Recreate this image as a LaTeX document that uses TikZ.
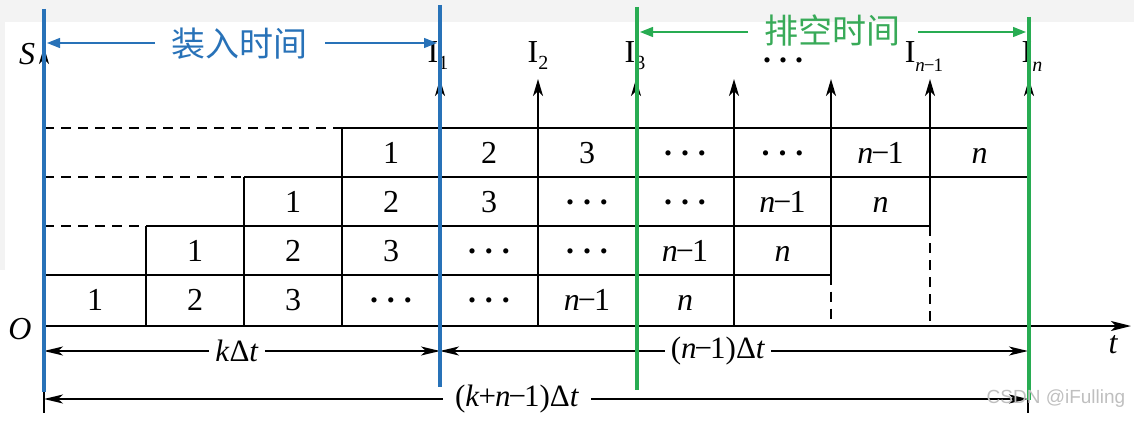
\documentclass[tikz,border=0pt]{standalone}
\usepackage{fontspec}
\setmainfont{Liberation Serif}
\newfontfamily\cjk{Noto Sans CJK SC}
\newfontfamily\wmfont{Liberation Sans}
\usetikzlibrary{arrows.meta}
\definecolor{lblue}{RGB}{40,114,184}
\definecolor{lgreen}{RGB}{40,172,82}
\definecolor{tgreen}{RGB}{56,170,88}
\definecolor{band}{RGB}{243,243,243}
\newcommand\cdd{\raisebox{8pt}{\textbf{.}\kern9pt\textbf{.}\kern9pt\textbf{.}}}
\newcommand\nmo{\textit{n}\kern-2pt−\kern-2pt1}
\newcommand\nnn{\textit{n}}
\begin{document}
\begin{tikzpicture}[x=1pt,y=-1pt,
  grid/.style={line width=2pt,black},
  dashgrid/.style={grid,dash pattern=on 10pt off 7pt},
  uparrow/.style={grid,-{Stealth[length=17pt,width=10pt,inset=5pt]}},
  axisarrow/.style={grid,-{Stealth[length=20pt,width=10pt,inset=5pt]}},
  dimline/.style={line width=1.8pt,black},
  dimtip/.style={dimline,-{Stealth[length=19pt,width=9pt,inset=5pt]}},
  cell/.style={font=\fontsize{32}{36}\selectfont,text height=21pt,text depth=0pt,inner sep=0pt},
  toplabel/.style={font=\fontsize{32}{36}\selectfont,anchor=base,inner sep=0pt},
  axlabel/.style={font=\fontsize{32}{36}\selectfont\itshape,inner sep=0pt},
  dimlabel/.style={font=\fontsize{31}{36}\selectfont,inner ysep=0pt,inner xsep=6pt},
  bluebar/.style={line width=4.5pt,lblue},
  greenbar/.style={line width=4.5pt,lgreen},
  bluearrow/.style={line width=1.3pt,lblue,-{Triangle[length=13pt,width=10pt]}},
  greenarrow/.style={line width=1.3pt,lgreen,-{Triangle[length=13pt,width=10pt]}},
  cjklabel/.style={font=\cjk\fontsize{34}{36}\selectfont,inner sep=0pt}
]
\useasboundingbox (0,0) rectangle (1134,420);
\fill[band] (0,0) rectangle (1134,22);
\fill[band] (0,22) rectangle (5,270);

% grid lines
\draw[dashgrid] (44,128) -- (342,128);
\draw[grid] (342,128) -- (1029,128);
\draw[dashgrid] (44,177) -- (244,177);
\draw[grid] (244,177) -- (1029,177);
\draw[dashgrid] (44,226) -- (146,226);
\draw[grid] (146,226) -- (930,226);
\draw[grid] (44,274.5) -- (831,274.5);
\draw[grid] (146,226) -- (146,326);
\draw[grid] (244,177) -- (244,326);
\draw[grid] (342,128) -- (342,326);
\draw[dashgrid] (831,274.5) -- (831,326);
\draw[dashgrid] (930,226) -- (930,326);
\draw[dashgrid] (1029,177) -- (1029,326);

% axes
\coordinate (orig) at (44,326);
\coordinate (tend) at (1131,326);
\coordinate (stop) at (44,47);
\draw[axisarrow] (orig) -- (tend);
\draw[uparrow] (orig) -- (stop);
\node[axlabel] (O) at (20,329) {O};
\node[axlabel] (S) at (27,54) {S};
\node[axlabel] (t) at (1113,345) {t};

% output arrows
\foreach \x/\y [count=\i] in {440/326,538/326,636/326,734/326,831/274.5,930/226,1029/177}{
  \coordinate (ab\i) at (\x,\y);
  \coordinate (at\i) at (\x,79);
  \draw[uparrow] (ab\i) -- (at\i);
}
\node[toplabel] (I1) at (438,63) {I\raisebox{-7pt}{\fontsize{20}{20}\selectfont 1}};
\node[toplabel] (I2) at (538,63) {I\raisebox{-7pt}{\fontsize{20}{20}\selectfont 2}};
\node[toplabel] (I3) at (635,63) {I\raisebox{-7pt}{\fontsize{20}{20}\selectfont 3}};
\node[toplabel] (Idots) at (783,63) {\smash{\textbf{.}\kern8pt\textbf{.}\kern8pt\textbf{.}}};
\node[toplabel] (In1) at (924,63) {I\raisebox{-9pt}{\fontsize{19}{20}\selectfont\textit{n}\kern-1pt−\kern-1pt1}};
\node[toplabel] (In) at (1032,63) {I\raisebox{-9pt}{\fontsize{20}{20}\selectfont\textit{n}}};

% cells
\foreach \r/\y in {0/300,1/250.5,2/201.5,3/152.5}{
  \foreach \k/\txt in {0/1,1/2,2/3,3/\cdd,4/\cdd,5/\nmo,6/\nnn}{
    \pgfmathtruncatemacro\c{\r+\k}
    \pgfmathsetmacro\cx{{95,195,293,391,489,587,685,782.5,880.5,979.5}[\c]}
    \node[cell] (cell-\r-\k) at (\cx,\y) {\txt};
  }
}

% dimension lines
\coordinate (dA) at (44,351);
\coordinate (dB) at (440,351);
\coordinate (dC) at (1028,351);
\coordinate (eA) at (44,399);
\coordinate (eC) at (1028,399);
\node[dimlabel] (kdt) at (237,351) {\textit{k}Δ\textit{t}};
\node[dimlabel] (ndt) at (718,351) {(\textit{n}\kern-2pt−\kern-2pt1)Δ\textit{t}};
\node[dimlabel,inner xsep=12pt] (kndt) at (517,399) {(\textit{k}\kern-1pt+\kern-1pt\textit{n}\kern-2pt−\kern-2pt1)Δ\textit{t}};
\draw[dimtip] (kdt.west) -- (dA);
\draw[dimtip] (kdt.east) -- (dB);
\draw[dimtip] (ndt.west) -- (dB);
\draw[dimtip] (ndt.east) -- (dC);
\draw[dimtip] (kndt.west) -- (eA);
\draw[dimtip] (kndt.east) -- (eC);
\coordinate (xA) at (44,413);
\coordinate (xC) at (1028,413);
\draw[line width=1.5pt] (orig) -- (xA);
\draw[line width=1.5pt] (1028,326) -- (xC);

% coloured bars
\coordinate (b1t) at (44,9);   \coordinate (b1b) at (44,392);
\coordinate (b2t) at (440,5);  \coordinate (b2b) at (440,387);
\coordinate (g1t) at (637,7);  \coordinate (g1b) at (637,390);
\coordinate (g2t) at (1029,17);\coordinate (g2b) at (1029,400);
\draw[bluebar] (b1t) -- (b1b);
\draw[bluebar] (b2t) -- (b2b);
\draw[greenbar] (g1t) -- (g1b);
\draw[greenbar] (g2t) -- (g2b);

% loading / draining labels
\node[cjklabel,text=lblue] (load) at (239,44) {装入时间};
\coordinate (loadL) at (47,43);
\coordinate (loadR) at (437,43);
\coordinate (loadLs) at (155,43);
\coordinate (loadRs) at (325,43);
\draw[bluearrow] (loadLs) -- (loadL);
\draw[bluearrow] (loadRs) -- (loadR);
\node[cjklabel,text=tgreen] (drain) at (832,30) {排空时间};
\coordinate (drainL) at (640,32);
\coordinate (drainR) at (1026,32);
\coordinate (drainLs) at (748,32);
\coordinate (drainRs) at (918,32);
\draw[greenarrow] (drainLs) -- (drainL);
\draw[greenarrow] (drainRs) -- (drainR);

% watermark
\node[font=\wmfont\fontsize{19}{20}\selectfont,text=gray!50,inner sep=0pt] (wm) at (1056,399) {CSDN @iFulling};
\end{tikzpicture}
\end{document}
